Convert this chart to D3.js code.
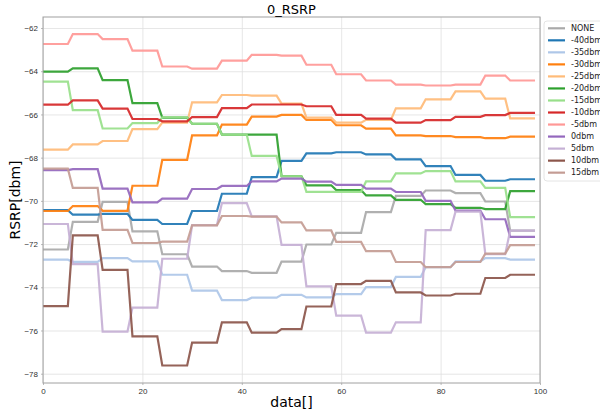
<!DOCTYPE html>
<meta charset="utf-8">
<script src="https://d3js.org/d3.v7.min.js"></script>
<style>
body { margin: 0; background: white; }
svg { font-family: "DejaVu Sans", sans-serif; }
.grid line { stroke: #e0e0e0; stroke-width: 0.8px; }
.grid path { stroke: none; }
.axis text { fill: #333; font-size: 8px; }
.axis line { stroke: #bbb; }
.axis path { stroke: none; }
.series { fill: none; stroke-width: 2.2px; stroke-opacity: 0.92; }
</style>
<body>
<svg id="chart" width="600" height="416"></svg>
<script>
// first index of each flat step (last step runs to index 99)
var segStart = [0, 6, 12, 18, 24, 30, 36, 42, 48, 53, 59, 65, 71, 77, 83, 89, 94];
var lastIndex = 99;

var names = ["NONE", "-40dbm", "-35dbm", "-30dbm", "-25dbm", "-20dbm", "-15dbm",
             "-10dbm", "-5dbm", "0dbm", "5dbm", "10dbm", "15dbm"];

var none   = [-72.25, -70.97, -70.05, -71.41, -72.47, -73.04, -73.25, -73.33, -72.81, -72.02, -71.48, -70.52, -69.77, -69.52, -69.64, -70.03, -71.38];
var m40    = [-70.43, -70.64, -70.60, -70.88, -71.07, -70.47, -69.67, -68.90, -68.15, -67.80, -67.75, -67.85, -68.08, -68.39, -68.80, -69.07, -69.00];
var m35    = [-72.72, -72.82, -72.65, -72.80, -73.42, -74.15, -74.59, -74.48, -74.35, -74.47, -74.32, -73.99, -73.52, -73.07, -72.80, -72.65, -72.72];
var m30    = [-70.47, -70.24, -70.46, -69.30, -68.10, -66.97, -66.47, -66.10, -66.02, -66.25, -66.50, -66.66, -66.97, -67.00, -67.05, -67.10, -67.03];
var m25    = [-67.63, -67.39, -67.23, -66.68, -66.38, -65.44, -65.10, -65.13, -65.50, -66.15, -66.38, -66.25, -65.72, -65.30, -64.93, -65.27, -66.18];
var m20    = [-64.02, -63.87, -64.41, -65.48, -66.15, -66.43, -66.93, -66.93, -68.86, -69.28, -69.50, -69.75, -69.95, -70.15, -70.32, -70.38, -69.55];
var m15    = [-64.48, -65.80, -66.65, -66.40, -66.13, -66.43, -66.94, -67.92, -68.86, -69.58, -69.58, -69.10, -68.73, -68.62, -69.10, -69.40, -70.75];
var m10    = [-65.55, -65.35, -65.73, -66.21, -66.32, -66.12, -65.71, -65.54, -65.54, -65.62, -66.02, -66.19, -66.38, -66.26, -66.11, -66.03, -65.93];
var m5     = [-62.74, -62.28, -62.51, -63.05, -63.78, -63.88, -63.51, -63.24, -63.28, -63.70, -64.14, -64.43, -64.62, -64.66, -64.62, -64.20, -64.43];
var p0     = [-68.58, -68.53, -69.43, -70.07, -69.90, -69.45, -69.31, -69.10, -68.97, -69.11, -69.26, -69.43, -69.59, -70.00, -70.45, -70.85, -71.67];
var p5     = [-71.07, -72.93, -76.05, -74.94, -72.68, -71.12, -70.10, -70.72, -72.04, -73.96, -75.31, -76.10, -75.62, -71.35, -70.50, -72.47, -71.38];
var p10    = [-74.87, -71.60, -73.19, -76.27, -77.62, -76.56, -75.62, -76.10, -75.94, -74.89, -73.85, -73.70, -74.24, -74.38, -74.30, -73.57, -73.42];
var p15    = [-68.51, -69.40, -71.34, -71.95, -71.89, -71.13, -70.70, -70.73, -71.00, -71.37, -71.90, -72.33, -72.83, -73.07, -72.83, -72.44, -72.05];

var seriesValues = [none, m40, m35, m30, m25, m20, m15, m10, m5, p0, p5, p10, p15];
var colors = ["#a9a9a9", "#1f77b4", "#aec7e8", "#ff7f0e", "#ffbb78", "#2ca02c", "#98df8a",
              "#d62728", "#ff9896", "#9467bd", "#c5b0d5", "#8c564b", "#c49c94"];

var xTicks = [0, 20, 40, 60, 80, 100];
var yTicks = [-78, -76, -74, -72, -70, -68, -66, -64, -62];

var svg = d3.select("#chart");
var box = { left: 43, right: 540, top: 17, bottom: 383 };

var x = d3.scaleLinear().domain([0, 100]).range([box.left, box.right]);
var y = d3.scaleLinear().domain([-78.43, -61.49]).range([box.bottom, box.top]);

// grid
svg.append("g")
    .attr("class", "grid")
    .attr("transform", "translate(0," + box.bottom + ")")
    .call(d3.axisBottom(x).tickValues(xTicks).tickSize(-(box.bottom - box.top)).tickFormat(""));
svg.append("g")
    .attr("class", "grid")
    .attr("transform", "translate(" + box.left + ",0)")
    .call(d3.axisLeft(y).tickValues(yTicks).tickSize(-(box.right - box.left)).tickFormat(""));

// axes
svg.append("g")
    .attr("class", "axis")
    .attr("transform", "translate(0," + box.bottom + ")")
    .call(d3.axisBottom(x).tickValues(xTicks).tickSize(2).tickPadding(3).tickFormat(d3.format("d")));
svg.append("g")
    .attr("class", "axis")
    .attr("transform", "translate(" + box.left + ",0)")
    .call(d3.axisLeft(y).tickValues(yTicks).tickSize(2).tickPadding(3).tickFormat(d3.format("d")));

// series: each step is a flat run from its start index to the index before the next step
function stepPoints(vals) {
    var pts = [];
    vals.forEach(function(v, k) {
        var s = segStart[k];
        var e = k < segStart.length - 1 ? segStart[k + 1] - 1 : lastIndex;
        pts.push([s, v]);
        pts.push([e, v]);
    });
    return pts;
}

var line = d3.line()
    .x(function(d) { return x(d[0]); })
    .y(function(d) { return y(d[1]); });

svg.append("g")
    .selectAll("path")
    .data(seriesValues)
    .enter().append("path")
    .attr("class", "series")
    .attr("stroke", function(d, i) { return colors[i]; })
    .attr("d", function(d) { return line(stepPoints(d)); });

// frame
svg.append("rect")
    .attr("x", box.left).attr("y", box.top)
    .attr("width", box.right - box.left).attr("height", box.bottom - box.top)
    .attr("fill", "none").attr("stroke", "#a0a0a0").attr("stroke-width", 1);

// titles
svg.append("text")
    .attr("x", (box.left + box.right) / 2).attr("y", 14)
    .attr("text-anchor", "middle")
    .style("font-size", "13px")
    .text("0_RSRP");

svg.append("text")
    .attr("x", (box.left + box.right) / 2).attr("y", 407)
    .attr("text-anchor", "middle")
    .style("font-size", "14px")
    .text("data[]");

svg.append("text")
    .attr("transform", "translate(20," + (box.top + box.bottom) / 2 + ") rotate(-90)")
    .attr("text-anchor", "middle")
    .style("font-size", "14px")
    .text("RSRP[dbm]");

// legend
var legend = svg.append("g").attr("transform", "translate(544,21)");
legend.append("rect")
    .attr("width", 70).attr("height", 160)
    .attr("rx", 3)
    .attr("fill", "white").attr("fill-opacity", 0.8)
    .attr("stroke", "#e4e4e4");

var item = legend.selectAll("g.item")
    .data(names)
    .enter().append("g")
    .attr("class", "item")
    .attr("transform", function(d, i) { return "translate(0," + (7.3 + i * 12.03) + ")"; });

item.append("line")
    .attr("x1", 4).attr("x2", 21)
    .attr("stroke", function(d, i) { return colors[i]; })
    .attr("stroke-width", 2.2);

item.append("text")
    .attr("x", 27).attr("dy", "0.35em")
    .style("font-size", "8px")
    .attr("fill", "#222")
    .text(function(d) { return d; });
</script>
</body>
